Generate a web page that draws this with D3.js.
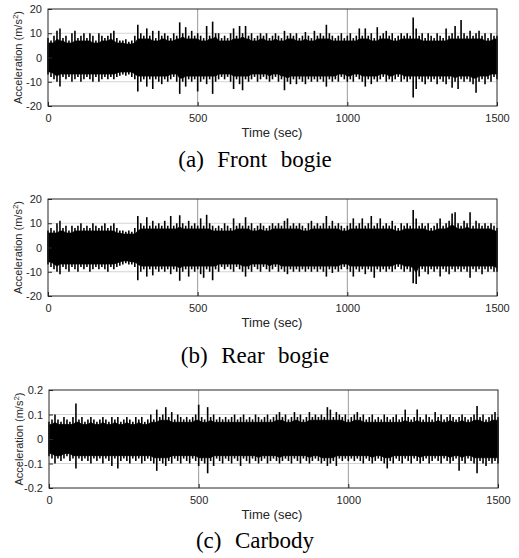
<!DOCTYPE html>
<html>
<head>
<meta charset="utf-8">
<script src="https://cdn.jsdelivr.net/npm/d3@7"></script>
<style>
  body { margin: 0; background: #fff; }
  svg { display: block; }
</style>
</head>
<body>
<div class="container"></div>
<script>
// sampled every 10 sec, 0..1500 (upper / lower edge of the signal band)
var SAMPLE_STEP = 10;

var frontUpper = [8,7,9,11,12,8,9,7,10,11, 8,9,10,8,10,9,7,10,9,8, 9,10,11,8,7,7,7.5,6.5,7,9,
  13.5,10,9,12,9,11,8,11,9,10, 9,8,10,9,14.5,10,12.5,9,11,9, 10,9,8,13,9,14.8,10,10,8,9,
  8,10,12,9,13,10,13,9,10,8, 9,10,9,10,8,9,10,9,8,11, 9,10,9,10,8,9,10.5,9,8,11,
  9,10,9,13.5,10,9,8,9,10,8, 9,10,8,9,12,9,12,9,10,8, 12.5,9,10,11,9,10,8,9,10,9,
  10,9,16.5,12,9,10,8,10,9,8, 10,9,8,12,9,10,13,9,15.5,10, 9,11,9,10,11,9,10,8,10,9,9];
var frontLower = [-7,-8,-9,-10,-12,-8,-9,-8,-10,-9, -8,-10,-9,-8,-9,-10,-8,-10,-9,-8, -9,-8,-9,-8,-7.5,-7,-7.5,-7,-8,-9,
  -14,-10,-9,-12,-9,-13,-9,-10,-11,-9, -10,-9,-8,-10,-15,-10,-12,-9,-10,-9, -14,-10,-9,-11,-9,-15,-10,-9,-8,-9,
  -8,-10,-13,-9,-11,-13.5,-9,-10,-9,-8, -10,-9,-8,-9,-10,-9,-8,-10,-9,-13.5, -10,-11,-9,-11,-9,-10,-11,-9,-10,-9,
  -10,-9,-10,-12,-9,-10,-9,-10,-8,-9, -10,-9,-10,-8,-9,-10,-12,-9,-11,-9, -10,-9,-8,-10,-9,-10,-9,-8,-10,-9,
  -10,-9,-16.5,-13,-9,-10,-11,-9,-10,-9, -11,-9,-10,-11,-9,-12.5,-10,-13,-9,-10, -9,-10,-11,-14.5,-10,-9,-11,-9,-10,-8,-9];

var rearUpper = [7,8,7,10,11,8,9,7,9,8, 9,10,8,9,8,10,9,8,9,10, 8,9,10,8,7,7,6.5,7,6.5,8,
  13,10,9,12.5,9,11,9,10,9,11, 9,13,9,10,13.3,10,9,11,9,10, 9,12,9,13.5,10,9,8,9,8,10,
  9,8,12,9,10,9,12.5,9,10,8, 9,10,9,8,9,10,9,10,9,11, 12,9,10,9,10,9,8,10,11,9,
  10,9,10,13,9,11,9,10,9,8, 9,10,12,9,10,12,9,10,13,9, 10,12,9,10,9,11,9,8,10,9,
  10,9,15.5,12,9,10,9,10,8,9, 10,12,9,10,11,14,14.5,10,9,11, 10,14.5,9,11,10,9,10,9,10,9,8];
var rearLower = [-7,-8,-9,-10,-11,-8,-9,-10,-8,-9, -10,-8,-9,-8,-10,-9,-8,-9,-8,-9, -10,-8,-9,-8,-7.5,-7,-6.5,-7,-7,-8,
  -13.5,-10,-9,-12,-9,-11.5,-9,-10,-9,-10, -9,-11,-9,-10,-13.7,-10,-9,-12,-9,-10, -9,-11,-12.5,-9,-10,-13.5,-9,-10,-8,-9,
  -8,-9,-10,-8,-9,-10,-12,-9,-10,-8, -9,-10,-8,-9,-10,-9,-8,-10,-9,-10, -11,-9,-10,-9,-10,-9,-10,-9,-10,-9,
  -10,-9,-10,-12,-9,-10.5,-9,-10,-9,-8, -9,-10,-12,-9,-10,-9,-11,-9,-10,-12.5, -9,-10,-9,-10,-9,-10,-9,-8,-9,-10,
  -9,-10,-14.7,-15,-12,-9,-10,-11,-9,-10, -9,-12,-9,-10,-11,-9,-10,-9,-10,-9, -10,-12.5,-9,-10,-9,-11,-9,-10,-9,-10,-10];

var carUpper = [0.07,0.08,0.1,0.08,0.07,0.09,0.08,0.07,0.09,0.145, 0.08,0.09,0.07,0.08,0.09,0.08,0.07,0.08,0.09,0.08,
  0.07,0.09,0.08,0.09,0.07,0.08,0.09,0.08,0.07,0.09, 0.08,0.09,0.07,0.08,0.1,0.08,0.12,0.09,0.1,0.13,
  0.09,0.11,0.08,0.1,0.09,0.08,0.09,0.08,0.09,0.1, 0.14,0.09,0.08,0.13,0.09,0.1,0.08,0.09,0.08,0.09,
  0.08,0.09,0.1,0.08,0.09,0.1,0.08,0.09,0.08,0.1, 0.09,0.08,0.09,0.1,0.08,0.09,0.1,0.11,0.09,0.1,
  0.08,0.09,0.11,0.09,0.1,0.08,0.09,0.11,0.09,0.1, 0.09,0.1,0.09,0.13,0.12,0.09,0.11,0.1,0.09,0.1,
  0.08,0.09,0.1,0.11,0.09,0.1,0.08,0.09,0.1,0.08, 0.09,0.08,0.1,0.09,0.08,0.09,0.1,0.08,0.09,0.12,
  0.09,0.08,0.09,0.12,0.09,0.08,0.1,0.09,0.08,0.11, 0.09,0.1,0.08,0.09,0.1,0.09,0.08,0.09,0.1,0.09,
  0.08,0.09,0.1,0.135,0.09,0.1,0.08,0.09,0.1,0.11,0.09];
var carLower = [-0.07,-0.08,-0.1,-0.08,-0.09,-0.08,-0.07,-0.09,-0.08,-0.12, -0.08,-0.09,-0.08,-0.09,-0.1,-0.08,-0.09,-0.08,-0.1,-0.08,
  -0.09,-0.11,-0.08,-0.12,-0.09,-0.08,-0.09,-0.1,-0.08,-0.09, -0.08,-0.1,-0.09,-0.08,-0.09,-0.1,-0.13,-0.09,-0.1,-0.11,
  -0.09,-0.1,-0.08,-0.09,-0.1,-0.08,-0.09,-0.1,-0.08,-0.09, -0.11,-0.09,-0.1,-0.14,-0.09,-0.11,-0.08,-0.09,-0.1,-0.08,
  -0.09,-0.1,-0.08,-0.09,-0.11,-0.08,-0.09,-0.1,-0.08,-0.09, -0.1,-0.09,-0.08,-0.1,-0.09,-0.08,-0.09,-0.1,-0.09,-0.08,
  -0.09,-0.1,-0.08,-0.09,-0.1,-0.08,-0.09,-0.1,-0.09,-0.08, -0.09,-0.1,-0.09,-0.11,-0.1,-0.09,-0.11,-0.08,-0.09,-0.08,
  -0.09,-0.08,-0.09,-0.08,-0.09,-0.1,-0.08,-0.09,-0.1,-0.09, -0.08,-0.09,-0.1,-0.12,-0.09,-0.1,-0.08,-0.09,-0.1,-0.08,
  -0.09,-0.1,-0.08,-0.09,-0.1,-0.09,-0.08,-0.1,-0.09,-0.08, -0.09,-0.1,-0.08,-0.09,-0.1,-0.09,-0.08,-0.13,-0.09,-0.1,
  -0.08,-0.09,-0.1,-0.14,-0.09,-0.1,-0.11,-0.09,-0.1,-0.09,-0.1];

var xTicks = [0, 500, 1000, 1500];
var bogieTicks = [-20, -10, 0, 10, 20];
var carTicks = [-0.2, -0.1, 0, 0.1, 0.2];
var titles = ["(a)  Front  bogie", "(b)  Rear  bogie", "(c)  Carbody"];

var WIDTH = 519, HEIGHT = 558;
var CORE = 0.85; // solid part of the band relative to the neighbouring peaks

var svg = d3.select('.container').append('svg')
  .attr('width', WIDTH)
  .attr('height', HEIGHT);

var translate = function (x, y) {
  return "translate(" + x + "," + y + ")";
};

var drawPanel = function (p) {
  var w = p.right - p.left, h = p.bottom - p.top;
  var xScale = d3.scaleLinear().domain([0, 1500]).range([0, w]);
  var yScale = d3.scaleLinear().domain([p.ticks[0], p.ticks[p.ticks.length - 1]]).range([h, 0]);

  var g = svg.append('g').attr('transform', translate(p.left, p.top));

  // grid
  g.selectAll('.hgrid').data(p.ticks.slice(1, -1)).enter().append('line')
    .attr('x1', 0).attr('x2', w)
    .attr('y1', function (d) { return yScale(d); })
    .attr('y2', function (d) { return yScale(d); })
    .attr('stroke', '#d4d4d4').attr('stroke-width', 1);
  g.selectAll('.vgrid').data(xTicks.slice(1, -1)).enter().append('line')
    .attr('y1', 0).attr('y2', h)
    .attr('x1', function (d) { return xScale(d); })
    .attr('x2', function (d) { return xScale(d); })
    .attr('stroke', '#9a9a9a').attr('stroke-width', 1);

  // solid core of the band
  var up = p.upper, lo = p.lower, n = up.length;
  var coreUp = function (i) {
    return CORE * Math.min(up[Math.max(i - 1, 0)], up[i], up[Math.min(i + 1, n - 1)]);
  };
  var coreLo = function (i) {
    return CORE * Math.max(lo[Math.max(i - 1, 0)], lo[i], lo[Math.min(i + 1, n - 1)]);
  };
  var area = d3.area()
    .x(function (d, i) { return xScale(i * SAMPLE_STEP); })
    .y0(function (d, i) { return yScale(coreLo(i)); })
    .y1(function (d, i) { return yScale(coreUp(i)); });
  g.append('path')
    .attr('d', area(up))
    .attr('fill', '#000')
    .attr('stroke', '#000')
    .attr('stroke-width', 0.8);

  // narrow peaks
  g.selectAll('.peak').data(up).enter().append('line')
    .attr('x1', function (d, i) { return xScale(i * SAMPLE_STEP); })
    .attr('x2', function (d, i) { return xScale(i * SAMPLE_STEP); })
    .attr('y1', function (d, i) { return yScale(lo[i]); })
    .attr('y2', function (d) { return yScale(d); })
    .attr('stroke', '#000')
    .attr('stroke-width', 1.6);

  // axes (ticks inward, MATLAB style)
  var fmt = function (d) { return String(d); };
  var xAxis = g.append('g').attr('transform', translate(0, h))
    .call(d3.axisBottom(xScale).tickValues(xTicks).tickFormat(fmt).tickSize(-4).tickPadding(8));
  var yAxis = g.append('g')
    .call(d3.axisLeft(yScale).tickValues(p.ticks).tickFormat(fmt).tickSize(-4).tickPadding(6));
  [xAxis, yAxis].forEach(function (a) {
    a.select('.domain').remove();
    a.selectAll('line').attr('stroke', '#262626');
    a.selectAll('text').attr('fill', '#262626')
      .style('font-family', 'Arial, "Liberation Sans", sans-serif').style('font-size', '11px');
  });

  g.append('rect')
    .attr('width', w).attr('height', h)
    .attr('fill', 'none').attr('stroke', '#262626').attr('stroke-width', 1);

  // labels
  var yl = svg.append('text')
    .attr('transform', translate(p.left - 26, p.top + h / 2) + ' rotate(-90)')
    .attr('text-anchor', 'middle')
    .style('font-family', 'Arial, "Liberation Sans", sans-serif')
    .style('font-size', '11px')
    .attr('fill', '#262626');
  yl.append('tspan').text('Acceleration (m/s');
  yl.append('tspan').attr('dy', -4).style('font-size', '8px').text('2');
  yl.append('tspan').attr('dy', 4).text(')');

  svg.append('text')
    .attr('x', 272).attr('y', p.bottom + 31)
    .attr('text-anchor', 'middle')
    .style('font-family', 'Arial, "Liberation Sans", sans-serif')
    .style('font-size', '13px')
    .attr('fill', '#262626')
    .text('Time (sec)');

  svg.append('text')
    .attr('x', 255).attr('y', p.titleY)
    .attr('text-anchor', 'middle')
    .attr('xml:space', 'preserve')
    .style('white-space', 'pre')
    .style('font-family', '"Times New Roman", "Liberation Serif", serif')
    .style('font-size', '23px')
    .style('word-spacing', '1px')
    .attr('fill', '#000')
    .text(p.title);
};

drawPanel({ left: 48, right: 497, top: 9, bottom: 106, ticks: bogieTicks,
  upper: frontUpper, lower: frontLower, title: titles[0], titleY: 167 });
drawPanel({ left: 48, right: 497, top: 199, bottom: 296, ticks: bogieTicks,
  upper: rearUpper, lower: rearLower, title: titles[1], titleY: 363 });
drawPanel({ left: 49, right: 498, top: 390, bottom: 488, ticks: carTicks,
  upper: carUpper, lower: carLower, title: titles[2], titleY: 548 });
</script>
</body>
</html>
